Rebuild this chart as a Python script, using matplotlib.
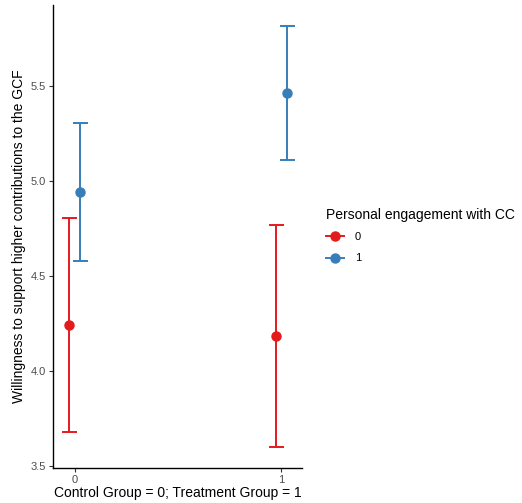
import matplotlib
matplotlib.use("Agg")
import matplotlib.pyplot as plt
from matplotlib.lines import Line2D

# ---------------------------------------------------
# Data
# ---------------------------------------------------
groups = [0, 1]
engagement = ["0", "1"]
means = {"0": [4.242, 4.184], "1": [4.942, 5.463]}
lower = {"0": [3.679, 3.600], "1": [4.579, 5.111]}
upper = {"0": [4.805, 4.768], "1": [5.305, 5.816]}
colors = {"0": "#E41A1C", "1": "#377EB8"}
dodge = {"0": -0.027, "1": 0.027}

plt.rcParams["font.family"] = ["Liberation Sans", "DejaVu Sans"]

fig = plt.figure(figsize=(5.22, 5.03), dpi=100)
ax = fig.add_axes([0.1015, 0.0696, 0.4775, 0.9204])

for lev in engagement:
    xs = [g + dodge[lev] for g in groups]
    m = means[lev]
    err = [[mi - lo for mi, lo in zip(m, lower[lev])],
           [hi - mi for mi, hi in zip(m, upper[lev])]]
    ax.errorbar(xs, m, yerr=err, fmt="o", color=colors[lev],
                ecolor=colors[lev], elinewidth=1.4, capsize=5.4,
                capthick=1.4, markersize=6.5)

ax.set_xlim(-0.106, 1.101)
ax.set_ylim(3.489, 5.927)
ax.set_xticks(groups)
ax.set_xticklabels([str(g) for g in groups])
ax.set_yticks([3.5, 4.0, 4.5, 5.0, 5.5])
ax.set_yticklabels(["3.5", "4.0", "4.5", "5.0", "5.5"])

for s in ["top", "right"]:
    ax.spines[s].set_visible(False)
for s in ["left", "bottom"]:
    ax.spines[s].set_linewidth(1.0)
    ax.spines[s].set_color("black")
ax.tick_params(axis="both", colors="#333333", labelcolor="#4D4D4D",
               labelsize=8, length=3, width=0.8, pad=2)

ax.set_xlabel("Control Group = 0; Treatment Group = 1", fontsize=10,
              color="black", labelpad=1)
ax.set_ylabel("Willingness to support higher contributions to the GCF",
              fontsize=10, color="black", labelpad=3)

# ---------------------------------------------------
# Legend
# ---------------------------------------------------
handles = [Line2D([0], [0], color=colors[lev], marker="o", markersize=6.5,
                  linewidth=1.4) for lev in engagement]
leg = fig.legend(handles, engagement, title="Personal engagement with CC",
                 loc="upper left", bbox_to_anchor=(0.605, 0.606),
                 frameon=False, fontsize=8, title_fontsize=10,
                 handlelength=1.6, handletextpad=1.0, labelspacing=1.0)
leg._legend_box.align = "left"
leg._legend_box.sep = 7.3

fig.savefig("out.png", dpi=100)
